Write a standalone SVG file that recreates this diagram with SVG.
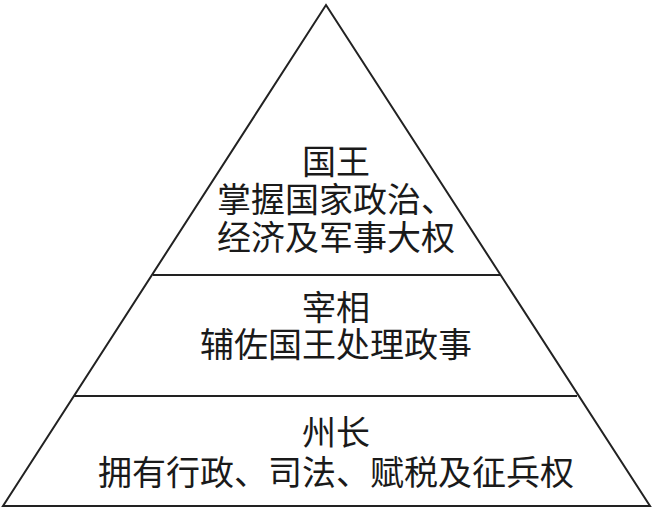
<svg xmlns="http://www.w3.org/2000/svg" width="653" height="511" viewBox="0 0 653 511">
<style>
.edge{fill:none;stroke:#222;stroke-width:2;stroke-linejoin:miter}
.t{font-family:"Noto Sans CJK SC","Noto Sans CJK TC",sans-serif;font-size:34px;fill:#1a1a1a;text-anchor:middle}
</style>
<rect width="653" height="511" fill="#fff"/>
<g id="connectors">
<polygon class="edge" points="326,5 650,506 3,506"/>
<line class="edge" x1="153" y1="275" x2="500" y2="275"/>
<line class="edge" x1="74" y1="396" x2="577" y2="396"/>
</g>
<g id="node-king">
<text class="t" x="336" y="174">国王</text>
<text class="t" x="336" y="212">掌握国家政治、</text>
<text class="t" x="336" y="250">经济及军事大权</text>
</g>
<g id="node-minister">
<text class="t" x="336" y="320">宰相</text>
<text class="t" x="336" y="357">辅佐国王处理政事</text>
</g>
<g id="node-governor">
<text class="t" x="336" y="445">州长</text>
<text class="t" x="336" y="485">拥有行政、司法、赋税及征兵权</text>
</g>
</svg>
